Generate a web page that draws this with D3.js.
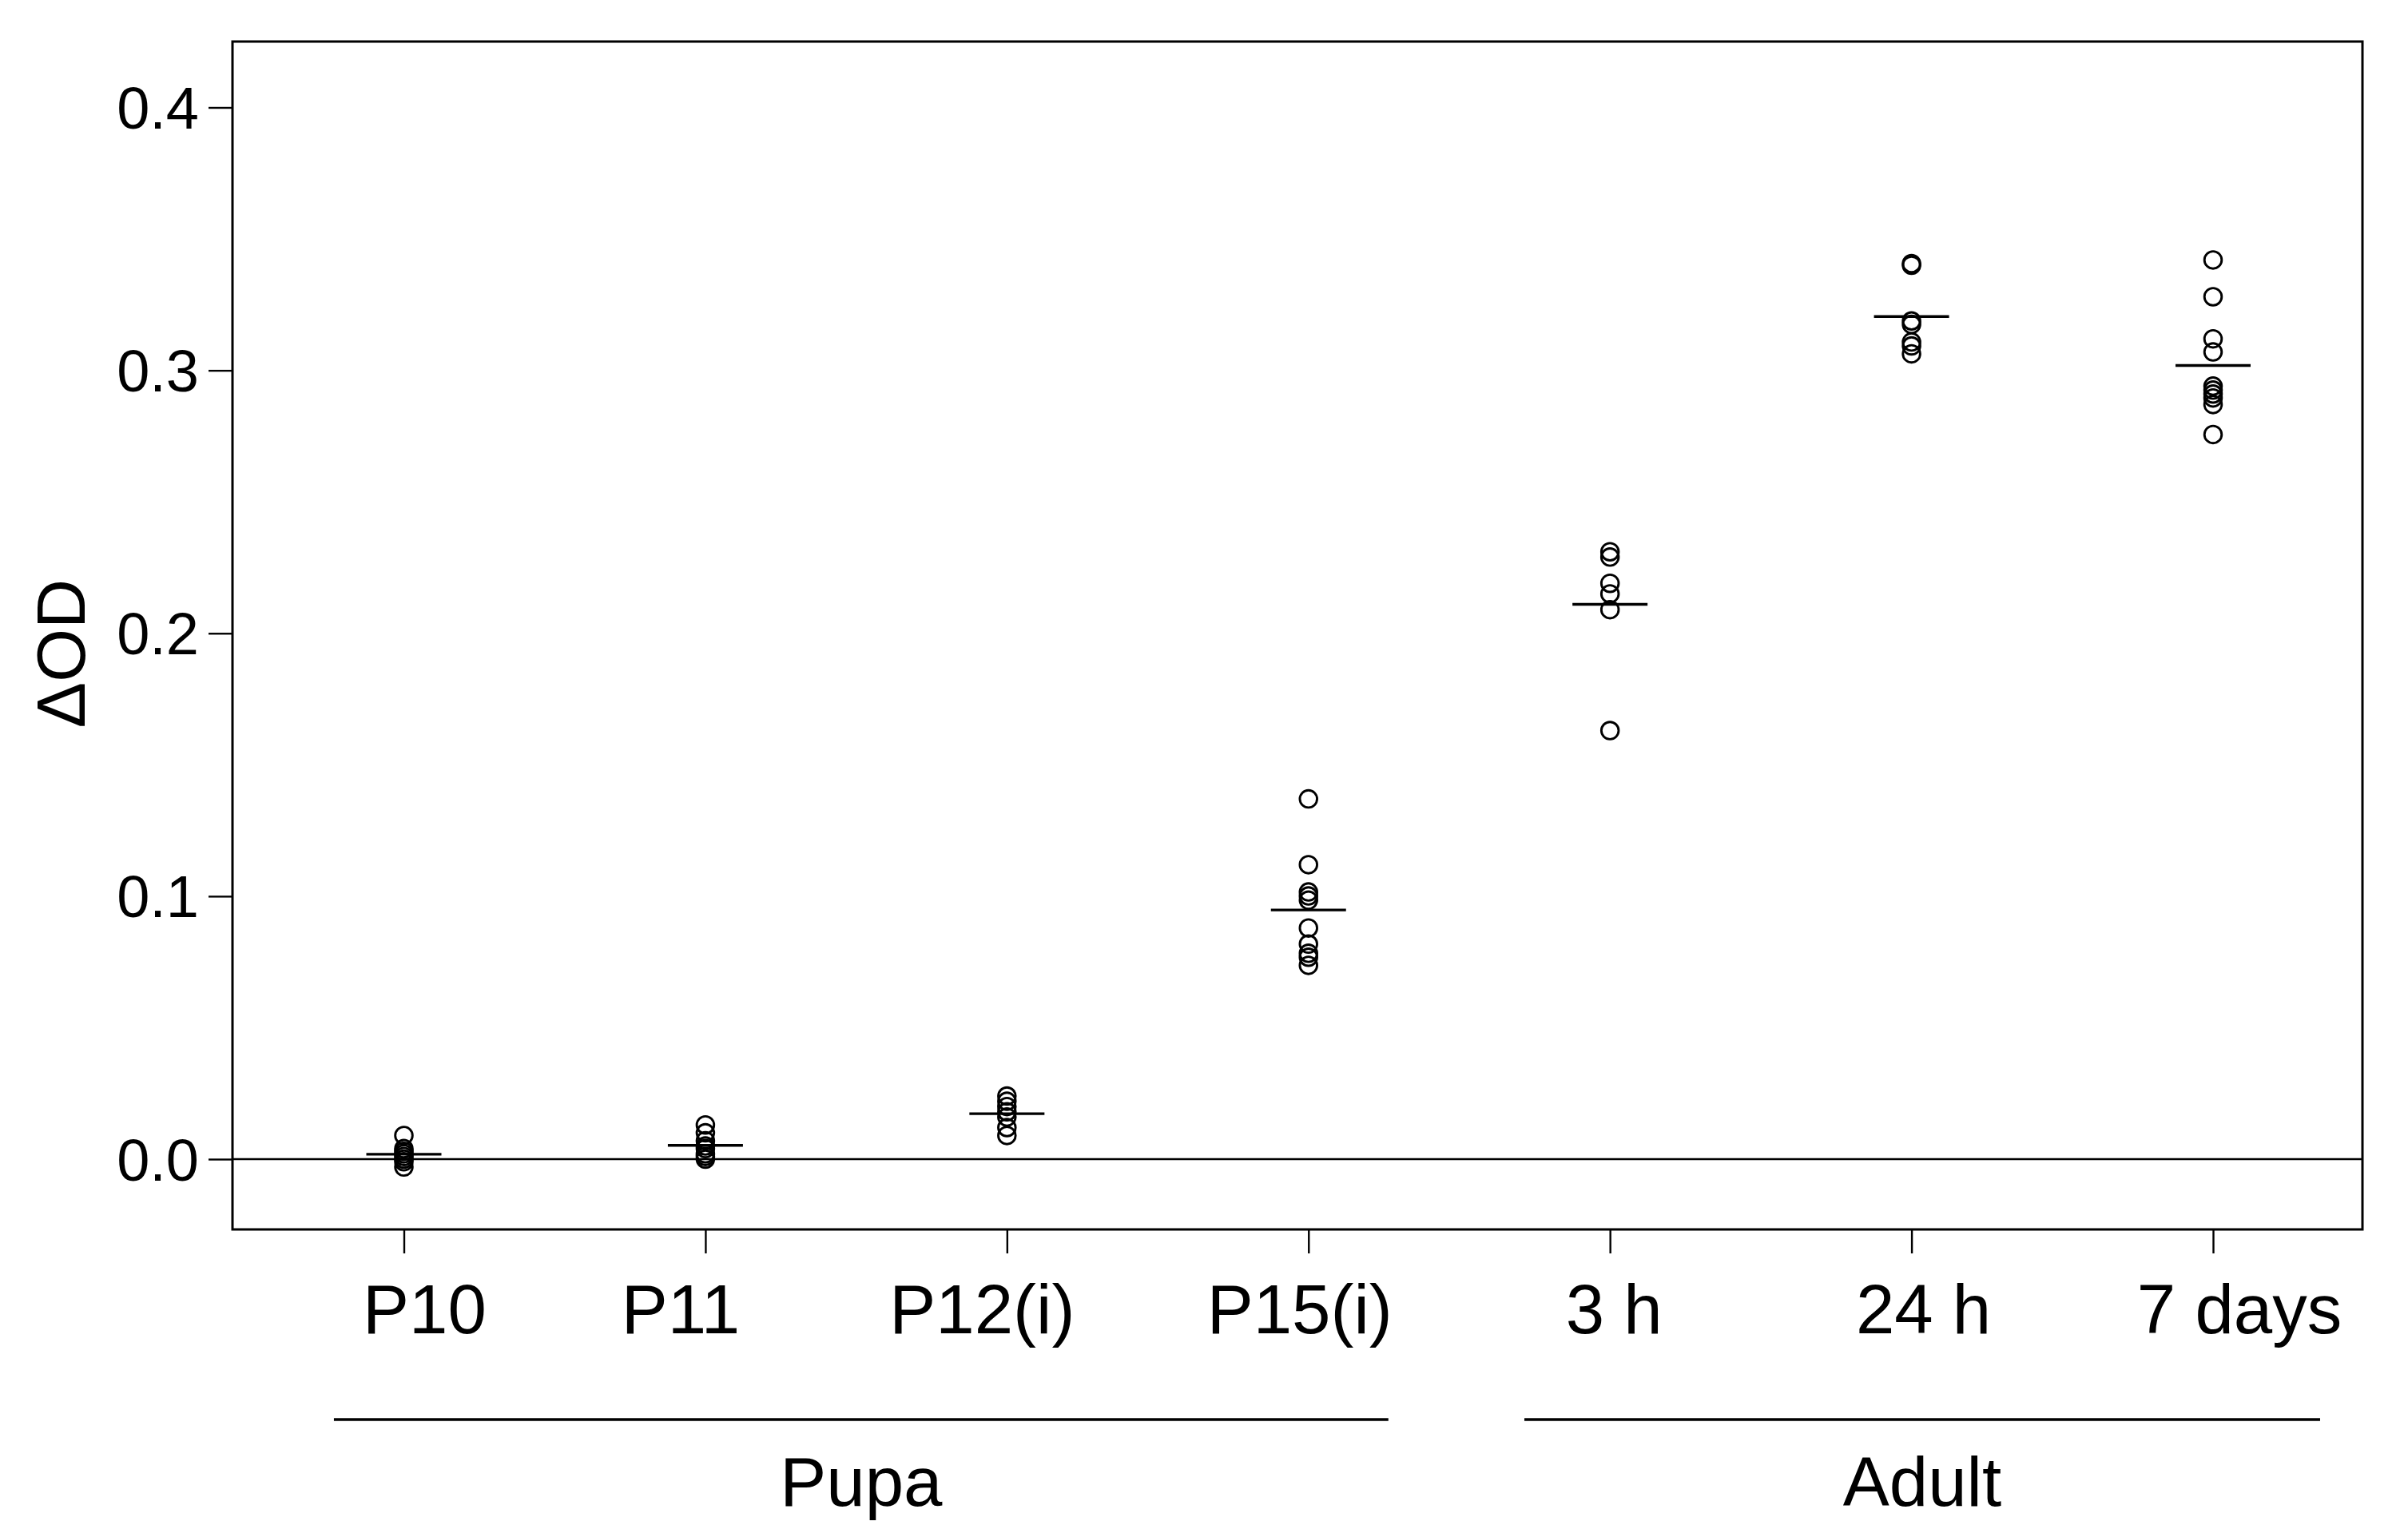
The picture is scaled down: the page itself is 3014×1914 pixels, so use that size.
<!DOCTYPE html>
<html>
<head>
<meta charset="utf-8">
<script src="https://cdn.jsdelivr.net/npm/d3@7"></script>
<style>
  html, body { margin: 0; padding: 0; background: #fff; }
  svg { display: block; }
  text { font-family: "Liberation Sans", Arial, Helvetica, sans-serif; fill: #000; }
</style>
</head>
<body>
<script>
// ---------------- DATA ----------------
const categories = ["P10", "P11", "P12(i)", "P15(i)", "3 h", "24 h", "7 days"];
const stageOfCategory = ["Pupa", "Pupa", "Pupa", "Pupa", "Adult", "Adult", "Adult"];
const stages = ["Pupa", "Adult"];

const valuesP10  = [0.009, 0.004, 0.003, 0.002, 0.001, 0.000, -0.001, -0.003];
const valuesP11  = [0.013, 0.010, 0.007, 0.005, 0.004, 0.002, 0.001, 0.000];
const valuesP12i = [0.024, 0.022, 0.020, 0.018, 0.016, 0.012, 0.009];
const valuesP15i = [0.137, 0.112, 0.1016, 0.1001, 0.0985, 0.0879, 0.0818, 0.0783, 0.0768, 0.0737];
const values3h   = [0.231, 0.229, 0.219, 0.215, 0.209, 0.163];
const values24h  = [0.3406, 0.3400, 0.3188, 0.3175, 0.3108, 0.3093, 0.3063];
const values7d   = [0.342, 0.328, 0.312, 0.307, 0.294, 0.2925, 0.291, 0.2895, 0.287, 0.2756];

const seriesValues = [valuesP10, valuesP11, valuesP12i, valuesP15i, values3h, values24h, values7d];
const yTickValues = [0.0, 0.1, 0.2, 0.3, 0.4];
const yAxisTitle = "ΔOD";

// ---------------- LAYOUT ----------------
const W = 3014, H = 1914;
const plot = { left: 291, right: 2957, top: 52, bottom: 1539 };

const svg = d3.select("body").append("svg")
  .attr("width", W).attr("height", H)
  .attr("viewBox", `0 0 ${W} ${H}`);

svg.append("rect").attr("width", W).attr("height", H).attr("fill", "#fff");

// x: category index (1..7) -> pixel
const idx = categories.map((_, i) => i + 1);
const x = d3.scaleLinear().domain([1, 7]).range([505.5, 2770]);
// y: value -> pixel
const y = d3.scaleLinear().domain([0, 0.4]).range([1451, 134.5]);

// zero reference line
svg.append("line")
  .attr("x1", plot.left).attr("x2", plot.right)
  .attr("y1", y(0)).attr("y2", y(0))
  .attr("stroke", "#000").attr("stroke-width", 2.6);

// points
const pts = [];
seriesValues.forEach((vals, i) => vals.forEach(v => pts.push({ i, v })));
svg.append("g").selectAll("circle").data(pts).join("circle")
  .attr("cx", d => x(idx[d.i]))
  .attr("cy", d => y(d.v))
  .attr("r", 10.8)
  .attr("fill", "none")
  .attr("stroke", "#000")
  .attr("stroke-width", 2.9);

// mean lines
const halfLen = 47;
svg.append("g").selectAll("line").data(seriesValues).join("line")
  .attr("x1", (d, i) => x(idx[i]) - halfLen)
  .attr("x2", (d, i) => x(idx[i]) + halfLen)
  .attr("y1", d => y(d3.mean(d)))
  .attr("y2", d => y(d3.mean(d)))
  .attr("stroke", "#000")
  .attr("stroke-width", 3.4);

// plot box
svg.append("rect")
  .attr("x", plot.left).attr("y", plot.top)
  .attr("width", plot.right - plot.left).attr("height", plot.bottom - plot.top)
  .attr("fill", "none").attr("stroke", "#000").attr("stroke-width", 3);

// y axis
const yAxis = d3.axisLeft(y).tickValues(yTickValues).tickSize(30).tickPadding(12)
  .tickFormat(d3.format(".1f"));
const gy = svg.append("g").attr("transform", `translate(${plot.left},0)`).call(yAxis);
gy.select(".domain").remove();
gy.selectAll(".tick line").attr("stroke", "#000").attr("stroke-width", 2.4);
gy.selectAll(".tick text")
  .attr("font-size", 74)
  .attr("font-family", "'Liberation Sans', Arial, sans-serif")
  .attr("dy", null)
  .attr("y", 26);

// x axis ticks
const xAxis = d3.axisBottom(x).tickValues(idx).tickSize(30).tickFormat("");
const gx = svg.append("g").attr("transform", `translate(0,${plot.bottom})`).call(xAxis);
gx.select(".domain").remove();
gx.selectAll(".tick line").attr("stroke", "#000").attr("stroke-width", 2.4);

// x category labels (small hand-placed nudges as in the original figure)
const labelNudge = [26, -31, -31, -11, 5, 15, 33];
svg.append("g").selectAll("text").data(categories).join("text")
  .attr("x", (d, i) => x(idx[i]) + labelNudge[i])
  .attr("y", 1669)
  .attr("text-anchor", "middle")
  .attr("font-size", 87)
  .text(d => d);

// stage group lines and labels
const groupPad = { Pupa: [-0.232, 0.265], Adult: [-0.284, 0.355] };
stages.forEach(s => {
  const members = idx.filter((_, i) => stageOfCategory[i] === s);
  const x1 = x(d3.min(members) + groupPad[s][0]);
  const x2 = x(d3.max(members) + groupPad[s][1]);
  svg.append("line")
    .attr("x1", x1).attr("x2", x2)
    .attr("y1", 1777).attr("y2", 1777)
    .attr("stroke", "#000").attr("stroke-width", 3.4);
  svg.append("text")
    .attr("x", (x1 + x2) / 2)
    .attr("y", 1885)
    .attr("text-anchor", "middle")
    .attr("font-size", 87)
    .text(s);
});

// y axis title
svg.append("text")
  .attr("transform", `translate(106,818) rotate(-90)`)
  .attr("text-anchor", "middle")
  .attr("font-size", 86)
  .text(yAxisTitle);
</script>
</body>
</html>
